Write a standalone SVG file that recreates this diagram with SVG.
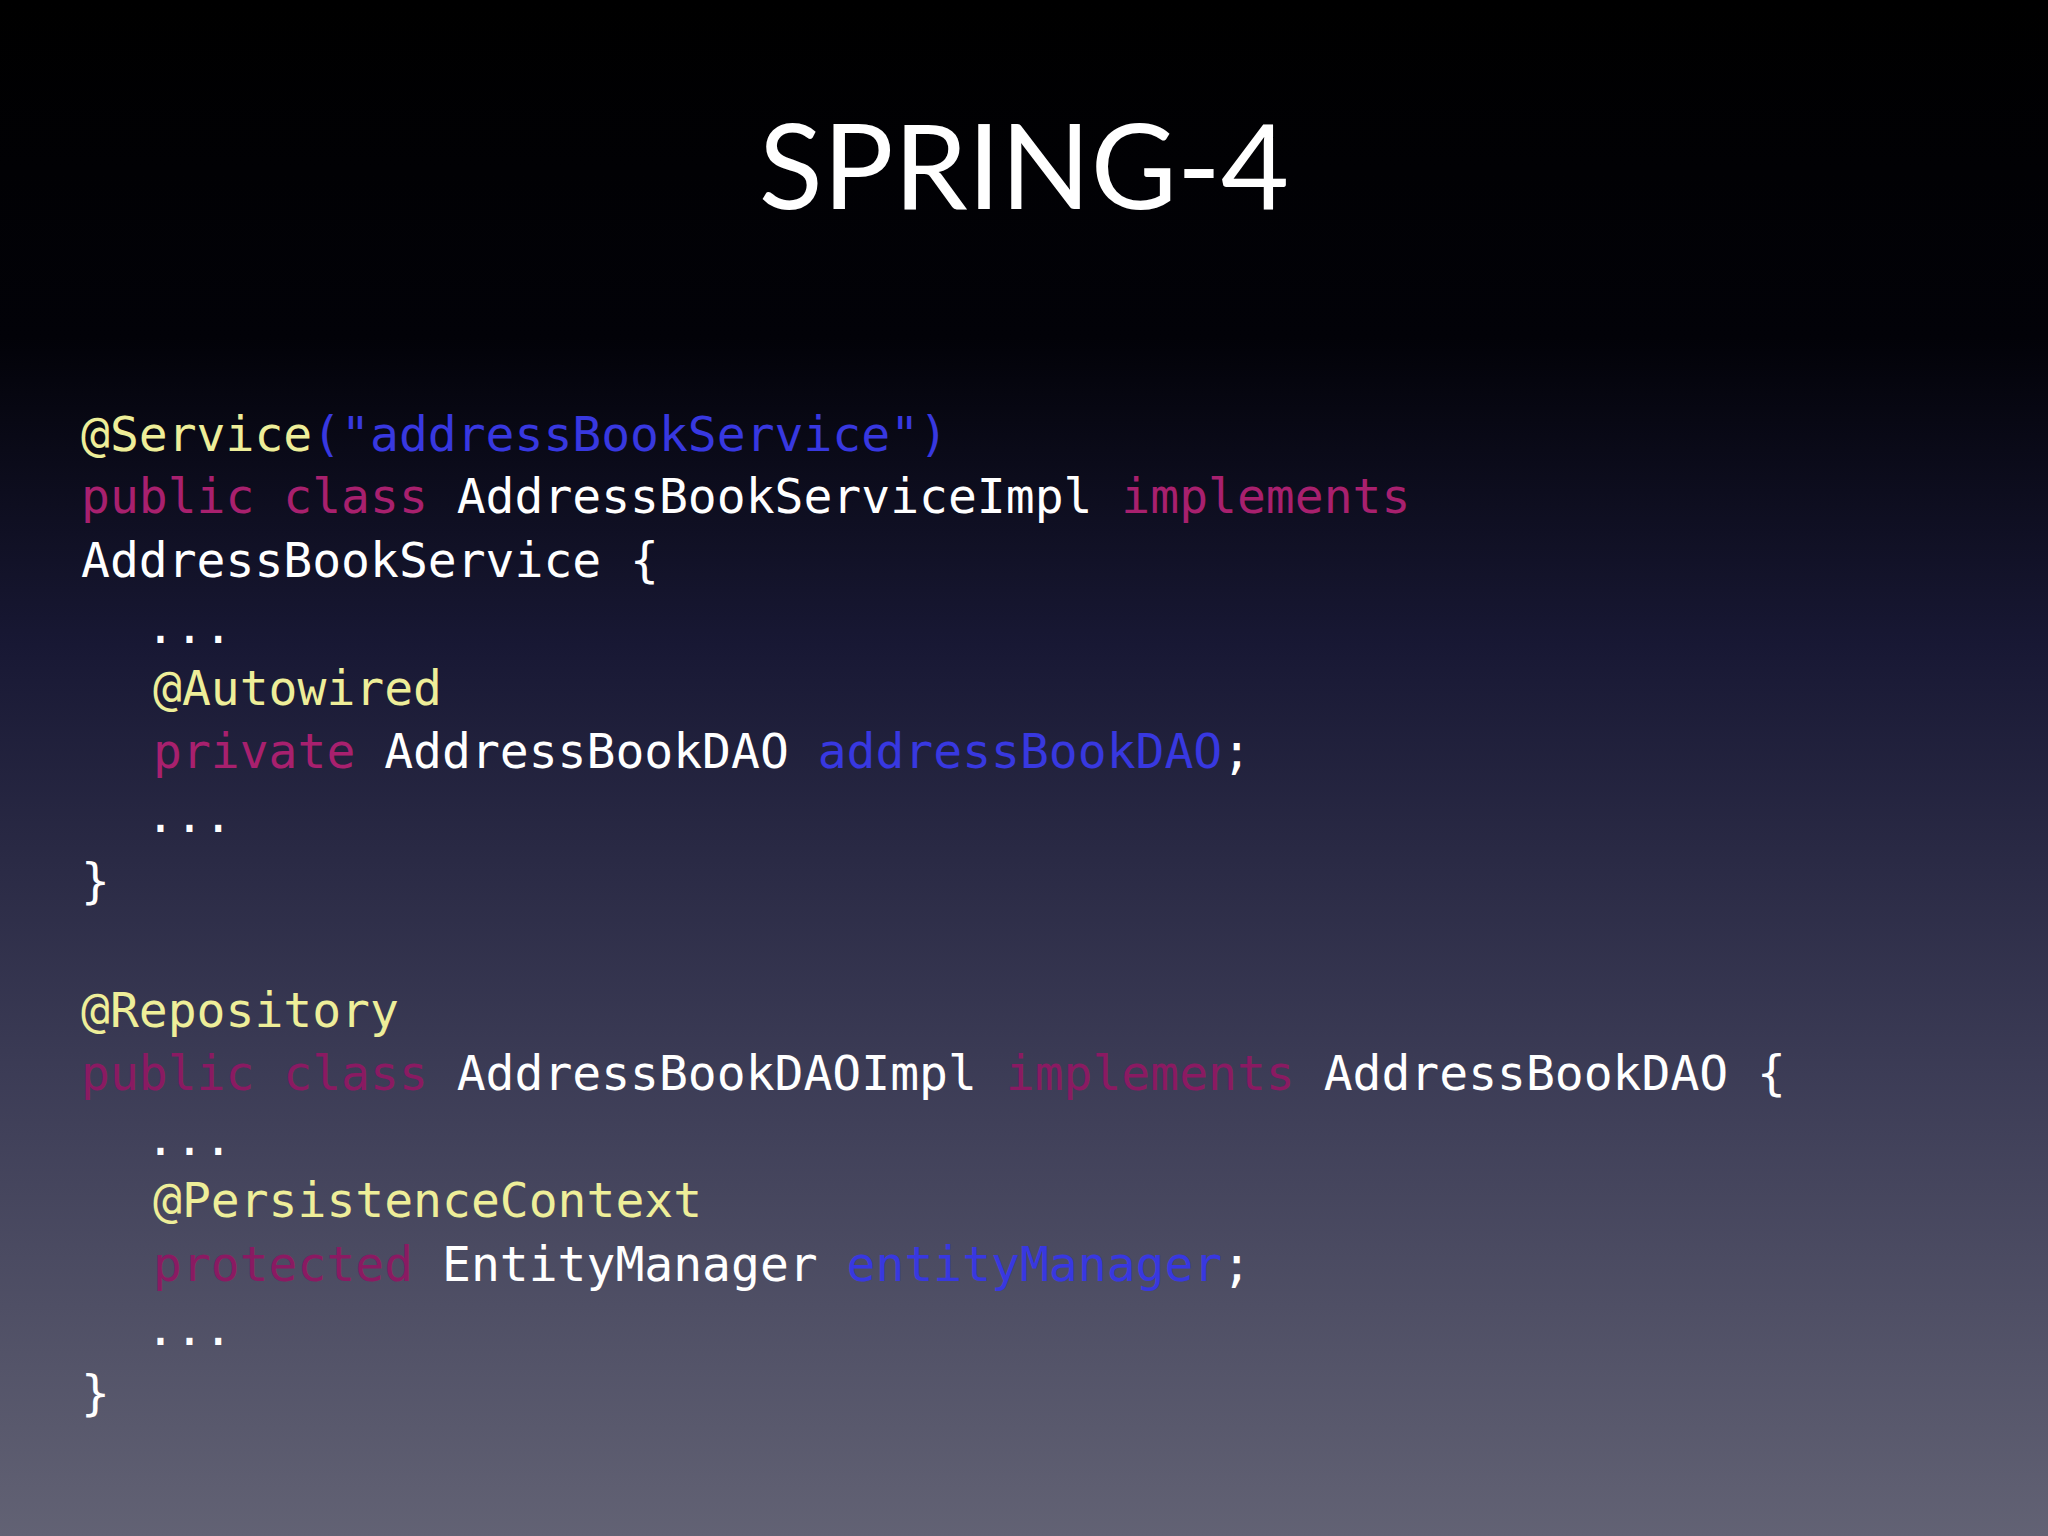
<svg xmlns="http://www.w3.org/2000/svg" width="2048" height="1536" viewBox="0 0 2048 1536">
<defs>
<linearGradient id="bg" x1="0" y1="0" x2="0" y2="1">
<stop offset="0" stop-color="#000000"/>
<stop offset="0.22" stop-color="#020208"/>
<stop offset="0.42" stop-color="#181834"/>
<stop offset="0.7" stop-color="#3c3c56"/>
<stop offset="1" stop-color="#626274"/>
</linearGradient>
</defs>
<style>
.c{font-family:"DejaVu Sans Mono","Liberation Mono",monospace;font-size:48px;fill:#ffffff}
.a{fill:#eeee99}.b{fill:#3838e0}.k{fill:#a8206e}.d{fill:#8a1a62}
.t{font-family:"Lato","Open Sans","Liberation Sans",sans-serif;font-size:118px;fill:#ffffff}
</style>
<rect width="2048" height="1536" fill="url(#bg)"/>
<text class="t" x="1024" y="209" text-anchor="middle">SPRING-4</text>
<g class="c" xml:space="preserve">
<text x="81" y="451"><tspan class="a">@Service</tspan><tspan class="b">("addressBookService")</tspan></text>
<text x="81" y="513"><tspan class="k">public class</tspan> AddressBookServiceImpl <tspan class="k">implements</tspan></text>
<text x="81" y="577">AddressBookService {</text>
<text x="146" y="643">...</text>
<text x="153" y="705" class="a">@Autowired</text>
<text x="153" y="768"><tspan class="k">private</tspan> AddressBookDAO <tspan class="b">addressBookDAO</tspan>;</text>
<text x="146" y="832">...</text>
<text x="81" y="898">}</text>
<text x="81" y="1027" class="a">@Repository</text>
<text x="81" y="1090"><tspan class="d">public class</tspan> AddressBookDAOImpl <tspan class="d">implements</tspan> AddressBookDAO {</text>
<text x="146" y="1155">...</text>
<text x="153" y="1217" class="a">@PersistenceContext</text>
<text x="153" y="1281"><tspan class="d">protected</tspan> EntityManager <tspan class="b">entityManager</tspan>;</text>
<text x="146" y="1345">...</text>
<text x="81" y="1410">}</text>
</g>
</svg>
